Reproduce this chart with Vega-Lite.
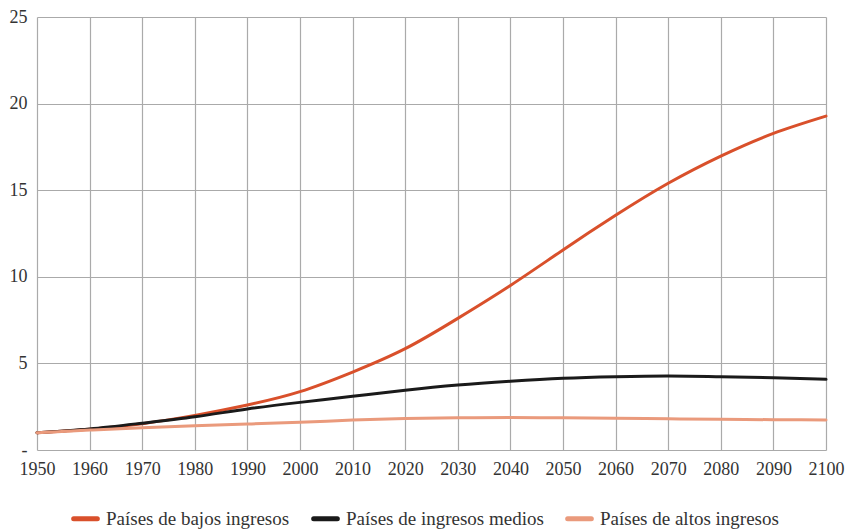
{
  "$schema": "https://vega.github.io/schema/vega-lite/v6.json",
  "autosize": "none",
  "width": 789,
  "height": 433,
  "padding": {"left": 37, "top": 17, "right": 27, "bottom": 80},
  "background": "white",
  "config": {
    "view": {"stroke": null},
    "font": "Liberation Sans Narrow"
  },
  "data": {
    "values": [
      {"year": 1950, "serie": "Países de bajos ingresos", "v": 1.0},
      {"year": 1960, "serie": "Países de bajos ingresos", "v": 1.2},
      {"year": 1970, "serie": "Países de bajos ingresos", "v": 1.52},
      {"year": 1980, "serie": "Países de bajos ingresos", "v": 2.0},
      {"year": 1990, "serie": "Países de bajos ingresos", "v": 2.6},
      {"year": 2000, "serie": "Países de bajos ingresos", "v": 3.37},
      {"year": 2010, "serie": "Países de bajos ingresos", "v": 4.5},
      {"year": 2020, "serie": "Países de bajos ingresos", "v": 5.85},
      {"year": 2030, "serie": "Países de bajos ingresos", "v": 7.6},
      {"year": 2040, "serie": "Países de bajos ingresos", "v": 9.5},
      {"year": 2050, "serie": "Países de bajos ingresos", "v": 11.55},
      {"year": 2060, "serie": "Países de bajos ingresos", "v": 13.55},
      {"year": 2070, "serie": "Países de bajos ingresos", "v": 15.4},
      {"year": 2080, "serie": "Países de bajos ingresos", "v": 16.97},
      {"year": 2090, "serie": "Países de bajos ingresos", "v": 18.28},
      {"year": 2100, "serie": "Países de bajos ingresos", "v": 19.28},
      {"year": 1950, "serie": "Países de ingresos medios", "v": 1.0},
      {"year": 1960, "serie": "Países de ingresos medios", "v": 1.22},
      {"year": 1970, "serie": "Países de ingresos medios", "v": 1.55},
      {"year": 1980, "serie": "Países de ingresos medios", "v": 1.92},
      {"year": 1990, "serie": "Países de ingresos medios", "v": 2.37},
      {"year": 2000, "serie": "Países de ingresos medios", "v": 2.75},
      {"year": 2010, "serie": "Países de ingresos medios", "v": 3.1},
      {"year": 2020, "serie": "Países de ingresos medios", "v": 3.45},
      {"year": 2030, "serie": "Países de ingresos medios", "v": 3.75},
      {"year": 2040, "serie": "Países de ingresos medios", "v": 3.97},
      {"year": 2050, "serie": "Países de ingresos medios", "v": 4.14},
      {"year": 2060, "serie": "Países de ingresos medios", "v": 4.23},
      {"year": 2070, "serie": "Países de ingresos medios", "v": 4.27},
      {"year": 2080, "serie": "Países de ingresos medios", "v": 4.23},
      {"year": 2090, "serie": "Países de ingresos medios", "v": 4.17},
      {"year": 2100, "serie": "Países de ingresos medios", "v": 4.08},
      {"year": 1950, "serie": "Países de altos ingresos", "v": 1.0},
      {"year": 1960, "serie": "Países de altos ingresos", "v": 1.15},
      {"year": 1970, "serie": "Países de altos ingresos", "v": 1.29},
      {"year": 1980, "serie": "Países de altos ingresos", "v": 1.4},
      {"year": 1990, "serie": "Países de altos ingresos", "v": 1.5},
      {"year": 2000, "serie": "Países de altos ingresos", "v": 1.6},
      {"year": 2010, "serie": "Países de altos ingresos", "v": 1.73},
      {"year": 2020, "serie": "Países de altos ingresos", "v": 1.82},
      {"year": 2030, "serie": "Países de altos ingresos", "v": 1.86},
      {"year": 2040, "serie": "Países de altos ingresos", "v": 1.87},
      {"year": 2050, "serie": "Países de altos ingresos", "v": 1.86},
      {"year": 2060, "serie": "Países de altos ingresos", "v": 1.84},
      {"year": 2070, "serie": "Países de altos ingresos", "v": 1.8},
      {"year": 2080, "serie": "Países de altos ingresos", "v": 1.77},
      {"year": 2090, "serie": "Países de altos ingresos", "v": 1.75},
      {"year": 2100, "serie": "Países de altos ingresos", "v": 1.73}
    ]
  },
  "mark": {"type": "line", "interpolate": "natural", "strokeWidth": 3, "strokeCap": "round"},
  "encoding": {
    "x": {
      "field": "year", "type": "quantitative",
      "scale": {"domain": [1950, 2100], "nice": false, "zero": false},
      "axis": {
        "title": null, "values": [1950,1960,1970,1980,1990,2000,2010,2020,2030,2040,2050,2060,2070,2080,2090,2100],
        "format": "d", "domain": false, "ticks": false, "labelPadding": 10,
        "labelFontSize": 18, "labelColor": "#333", "labelFont": "Liberation Sans Narrow",
        "gridColor": "#aaaaaa", "gridWidth": 1.2, "labelFlush": false
      }
    },
    "y": {
      "field": "v", "type": "quantitative",
      "scale": {"domain": [0, 25], "nice": false},
      "axis": {
        "title": null, "values": [0,5,10,15,20,25],
        "labelExpr": "datum.value === 0 ? '-' : datum.label",
        "domain": false, "ticks": false, "labelPadding": 10,
        "labelFontSize": 18, "labelColor": "#333", "labelFont": "Liberation Sans Narrow",
        "gridColor": "#aaaaaa", "gridWidth": 1.2, "labelFlush": false
      }
    },
    "color": {
      "field": "serie", "type": "nominal",
      "sort": ["Países de bajos ingresos", "Países de ingresos medios", "Países de altos ingresos"],
      "scale": {
        "domain": ["Países de bajos ingresos", "Países de ingresos medios", "Países de altos ingresos"],
        "range": ["#d9502b", "#1a1a1a", "#ea9a7c"]
      },
      "legend": {
        "title": null, "orient": "none", "direction": "horizontal",
        "legendX": 34, "legendY": 487,
        "symbolType": "stroke", "symbolStrokeWidth": 5, "symbolSize": 560,
        "labelFontSize": 19, "labelColor": "#333", "labelFont": "Liberation Sans Narrow",
        "labelLimit": 300, "columnPadding": 13, "labelOffset": 6,
        "encode": {"symbols": {"update": {"strokeCap": {"value": "round"}}}}
      }
    }
  }
}
